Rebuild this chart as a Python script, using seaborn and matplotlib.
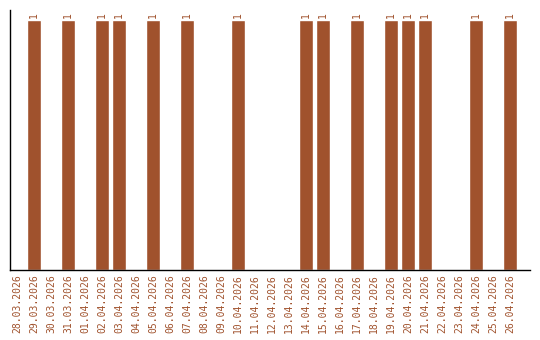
import matplotlib
matplotlib.use("Agg")
import matplotlib.pyplot as plt
import seaborn as sns
import pandas as pd

dates = ["28.03.2026", "29.03.2026", "30.03.2026", "31.03.2026", "01.04.2026",
         "02.04.2026", "03.04.2026", "04.04.2026", "05.04.2026", "06.04.2026",
         "07.04.2026", "08.04.2026", "09.04.2026", "10.04.2026", "11.04.2026",
         "12.04.2026", "13.04.2026", "14.04.2026", "15.04.2026", "16.04.2026",
         "17.04.2026", "18.04.2026", "19.04.2026", "20.04.2026", "21.04.2026",
         "22.04.2026", "23.04.2026", "24.04.2026", "25.04.2026", "26.04.2026"]
counts = [0, 1, 0, 1, 0, 1, 1, 0, 1, 0, 1, 0, 0, 1, 0,
          0, 0, 1, 1, 0, 1, 0, 1, 1, 1, 0, 0, 1, 0, 1]

color = "#A0522D"
df = pd.DataFrame({"date": dates, "count": counts})

sns.set_style("white")
plt.rcParams['font.family'] = ['DejaVu Sans Mono']

fig = plt.figure(figsize=(5.4, 3.4), dpi=100)
ax = fig.add_axes([10/540, 1 - 270/340, 520/540, 260/340])
sns.barplot(data=df, x="date", y="count", color=color, saturation=1,
            width=0.82, ax=ax)

for i, v in enumerate(counts):
    if v > 0:
        ax.text(i, v + 0.01, str(v), rotation=90, ha="center", va="bottom",
                fontsize=7, color=color)

ax.set_ylim(0, 1.04)
ax.set_xlim(-0.41, len(dates) + 0.18)
ax.set_xlabel("")
ax.set_ylabel("")
ax.set_yticks([])
ax.tick_params(axis="x", length=0, pad=3, labelsize=7, labelcolor=color)
plt.setp(ax.get_xticklabels(), rotation=90)
for s in ["top", "right"]:
    ax.spines[s].set_visible(False)
for s in ["left", "bottom"]:
    ax.spines[s].set_color("black")
    ax.spines[s].set_linewidth(1)

fig.savefig("out.png", dpi=100)
